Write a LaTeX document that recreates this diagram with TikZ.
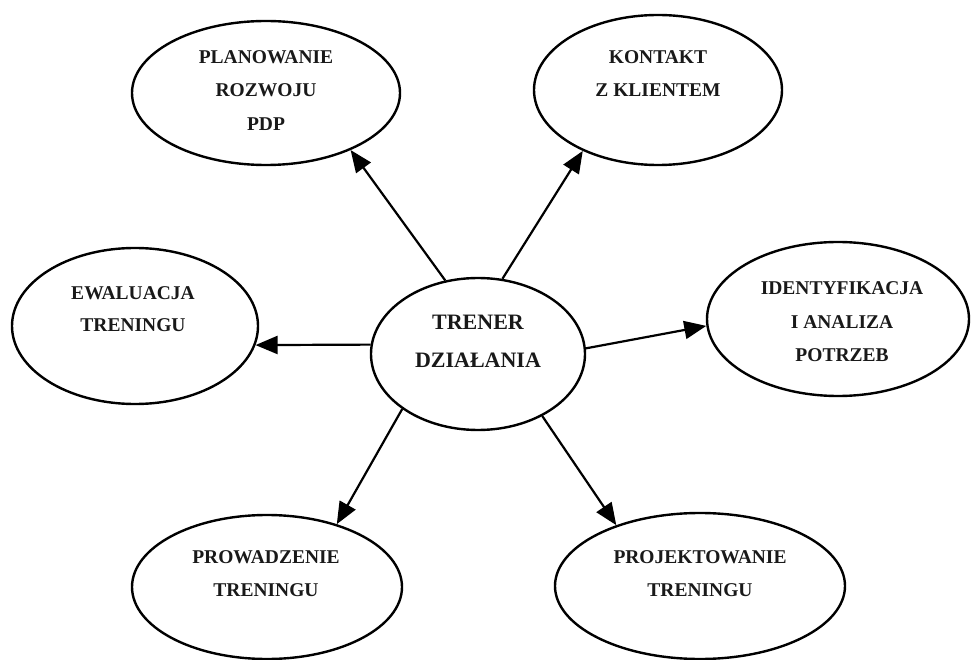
\documentclass[tikz,border=0pt]{standalone}
\usepackage{fontspec}
\setmainfont{Liberation Serif}
\usetikzlibrary{arrows.meta,shapes.geometric}
\begin{document}
\begin{tikzpicture}[x=1pt,y=-1pt,
  bubble/.style 2 args={draw=black, ellipse, line width=2.4pt, inner sep=0pt,
                        minimum width=#1, minimum height=#2},
  lbl/.style={font=\bfseries\fontsize{19.5}{23}\selectfont, anchor=base,
              inner sep=0pt, text=black!90},
  biglbl/.style={lbl, font=\bfseries\fontsize{22}{26}\selectfont},
  conn/.style={line width=2.2pt, -{Triangle[length=22pt,width=18pt]}}]
\useasboundingbox (0,0) rectangle (972,660);

% ellipses
\node[bubble={268pt}{144pt}] (pl) at (266,93) {};
\node[bubble={248pt}{150pt}] (kk) at (658,90) {};
\node[bubble={246pt}{156pt}] (ew) at (135,326) {};
\node[bubble={214pt}{152pt}] (tr) at (478,354) {};
\node[bubble={262pt}{154pt}] (id) at (838,319) {};
\node[bubble={270pt}{144pt}] (pr) at (267,587) {};
\node[bubble={290pt}{146pt}] (pj) at (700,586) {};

% labels
\node[lbl] (pl1) at (266,63.5) {PLANOWANIE};
\node[lbl] (pl2) at (266,97) {ROZWOJU};
\node[lbl] (pl3) at (266,131) {PDP};

\node[lbl] (kk1) at (658,63.5) {KONTAKT};
\node[lbl] (kk2) at (658,96.5) {Z KLIENTEM};

\node[lbl] (ew1) at (133,299.5) {EWALUACJA};
\node[lbl] (ew2) at (133,331.5) {TRENINGU};

\node[biglbl] (tr1) at (478,330) {TRENER};
\node[biglbl] (tr2) at (478,367) {DZIAŁANIA};

\node[lbl] (id1) at (842,294.5) {IDENTYFIKACJA};
\node[lbl] (id2) at (842,328.5) {I ANALIZA};
\node[lbl] (id3) at (842,361.5) {POTRZEB};

\node[lbl] (pr1) at (266,563.5) {PROWADZENIE};
\node[lbl] (pr2) at (266,596.5) {TRENINGU};

\node[lbl] (pj1) at (700,563.5) {PROJEKTOWANIE};
\node[lbl] (pj2) at (700,596.5) {TRENINGU};

% connectors
\draw[conn] (tr.114.4) -- (pl.326);
\draw[conn] (tr.72.7) -- (kk.219.6);
\draw[conn] (tr.175) -- (ew.351);
\draw[conn] (tr.3.7) -- (id.183.5);
\draw[conn] (tr.216.6) -- (pr.42.5);
\draw[conn] (tr.316) -- (pj.144.4);
\end{tikzpicture}
\end{document}
